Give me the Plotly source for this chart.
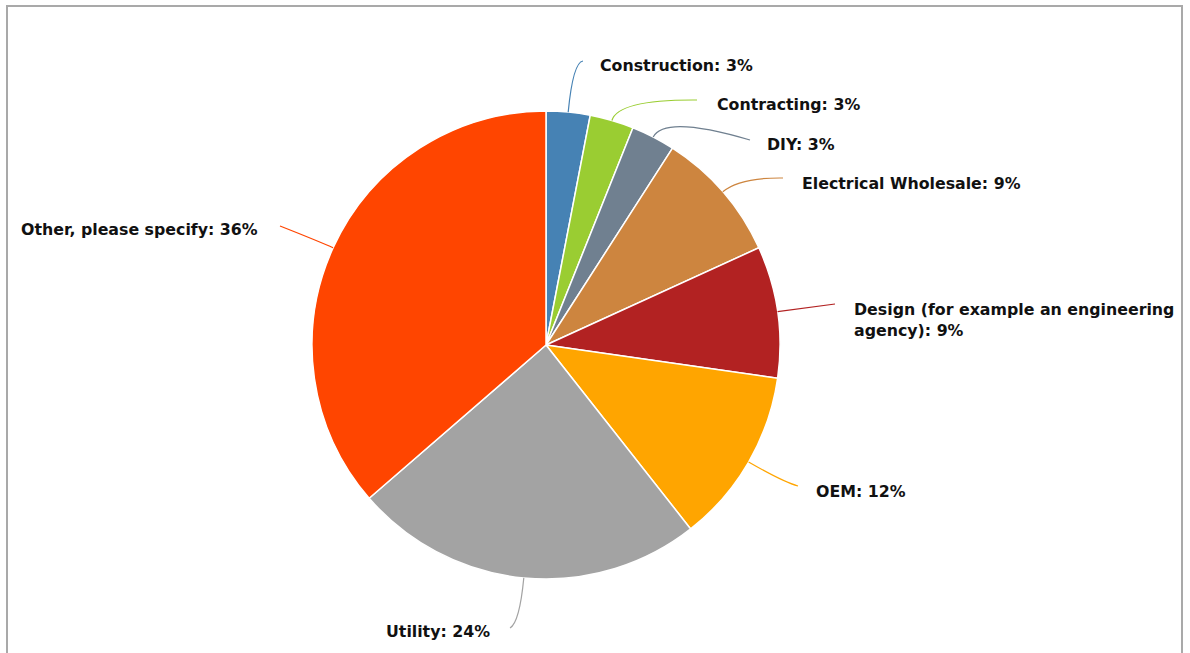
import math
import textwrap
import plotly.graph_objects as go

# Respondent sector breakdown
categories = [
    "Construction",
    "Contracting",
    "DIY",
    "Electrical Wholesale",
    "Design (for example an engineering agency)",
    "OEM",
    "Utility",
    "Other, please specify",
]
shares = [3, 3, 3, 9, 9, 12, 24, 36]
colors = ["#4682B4", "#9ACD32", "#708090", "#CD853F",
          "#B22222", "#FFA500", "#A3A3A3", "#FF4500"]

W, H = 1190, 653
CX, CY, R = 546, 345, 234          # pie centre / radius in pixels

# label anchor (x, y, side), leader end point, radial control length
label_anchor = [(598, 65, "left"), (715, 104, "left"), (765, 144, "left"),
                (800, 183, "left"), (852, 320, "left"), (814, 491, "left"),
                (492, 631, "right"), (260, 229, "right")]
leader_end = [(583, 61), (697, 100), (750, 140), (783, 178),
              (835, 304), (798, 486), (510, 628), (280, 226)]
leader_ext = [50, 22, 25, 22, 15, 40, 45, 15]

FONT = dict(family="DejaVu Sans", size=15.8, color="#111111")

total = sum(shares)
fig = go.Figure()

fig.add_trace(go.Pie(
    labels=categories,
    values=shares,
    sort=False,
    direction="clockwise",
    rotation=0,
    marker=dict(colors=colors, line=dict(color="white", width=1.5)),
    textinfo="none",
    hoverinfo="label+percent",
    showlegend=False,
    domain=dict(x=[(CX - R) / W, (CX + R) / W],
                y=[(H - CY - R) / H, (H - CY + R) / H]),
))

# invisible pixel-space axes for leader lines, labels and frame
fig.add_trace(go.Scatter(x=[0, W], y=[0, H], mode="markers",
                         marker=dict(opacity=0), hoverinfo="skip",
                         showlegend=False))

shapes = []
annotations = []
cum = 0.0
for name, val, col, (lx, ly, side), (ex, ey), ext in zip(
        categories, shares, colors, label_anchor, leader_end, leader_ext):
    mid = (cum + val / 2) / total * 2 * math.pi
    cum += val
    ux, uy = math.sin(mid), -math.cos(mid)
    sx, sy = CX + R * ux, CY + R * uy
    qx, qy = CX + (R + ext) * ux, CY + (R + ext) * uy
    shapes.append(dict(type="path", xref="x", yref="y",
                       path=f"M {sx:.1f},{sy:.1f} Q {qx:.1f},{qy:.1f} {ex},{ey}",
                       line=dict(color=col, width=1.2), layer="above"))
    pct = round(val / total * 100)
    text = "<br>".join(textwrap.wrap(f"{name}: {pct}%", 34))
    annotations.append(dict(x=lx, y=ly, xref="x", yref="y", text=f"<b>{text}</b>",
                            showarrow=False, xanchor=side, yanchor="middle",
                            align="left", font=FONT))

# outer frame
shapes.append(dict(type="rect", xref="x", yref="y", x0=7, y0=6, x1=1182, y1=700,
                   line=dict(color="#A9A9A9", width=2), layer="above"))

fig.update_layout(
    width=W, height=H,
    margin=dict(l=0, r=0, t=0, b=0),
    paper_bgcolor="white", plot_bgcolor="rgba(0,0,0,0)",
    xaxis=dict(range=[0, W], visible=False, fixedrange=True),
    yaxis=dict(range=[H, 0], visible=False, fixedrange=True),
    shapes=shapes, annotations=annotations,
)

fig.write_html("out.html")
